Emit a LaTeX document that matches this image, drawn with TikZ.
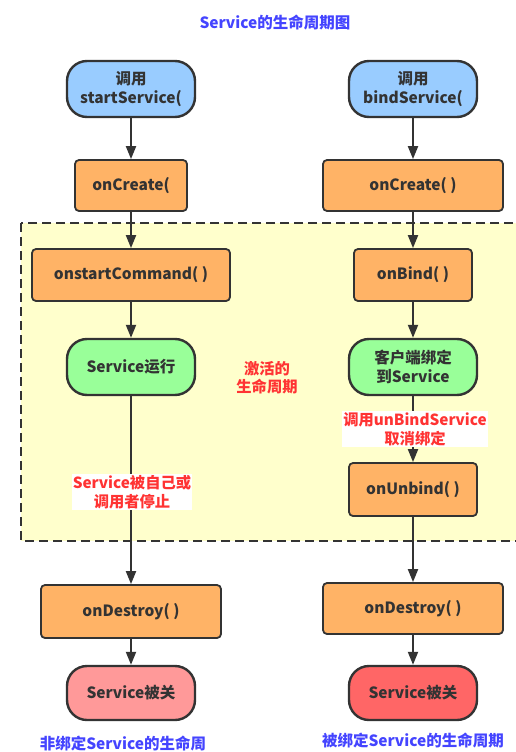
\documentclass[tikz,border=0pt]{standalone}
\usepackage{fontspec}
\setmainfont{Noto Sans CJK SC}
\usetikzlibrary{arrows.meta,positioning}
\definecolor{txt}{HTML}{333333}
\definecolor{edge}{HTML}{333333}
\definecolor{termblue}{HTML}{99CCFF}
\definecolor{proc}{HTML}{FFB366}
\definecolor{runG}{HTML}{99FF99}
\definecolor{endA}{HTML}{FF9999}
\definecolor{endB}{HTML}{FF6666}
\definecolor{zone}{HTML}{FFFFCC}
\definecolor{hint}{HTML}{FF3333}
\definecolor{ttl}{HTML}{4444FF}
\tikzset{
  base/.style={font=\fontsize{15.5}{18.5}\selectfont\bfseries, text=txt, align=center, inner sep=0pt},
  term/.style={base, draw=edge, line width=2.4pt, rounded corners=20pt, minimum width=128pt, minimum height=56pt},
  procbox/.style={base, draw=edge, line width=1.8pt, rounded corners=4pt, fill=proc, minimum height=52pt},
  flow/.style={draw=edge, line width=2pt, -{Triangle[length=13pt,width=10pt]}},
  hintlbl/.style={font=\fontsize{15.3}{19}\selectfont\bfseries, text=hint, align=center, fill=white, inner xsep=1pt, inner ysep=1pt},
  zonelbl/.style={font=\fontsize{15.3}{18}\selectfont\bfseries, text=hint, align=center},
  ttllbl/.style={font=\fontsize{15.5}{18}\selectfont\bfseries, text=ttl}
}
\begin{document}
\begin{tikzpicture}[x=1pt,y=-1pt]
\useasboundingbox (0,0) rectangle (516,752);
\fill[white] (0,0) rectangle (516,752);
% active zone
\begin{scope}
\clip (0,0) rectangle (516,752);
\draw[fill=zone, draw=edge, line width=2pt, dash pattern=on 9pt off 5pt] (21,223) rectangle (530,541);
\end{scope}
\node[ttllbl] (title) at (275,22) {Service的生命周期图};
% left column
\node[term, fill=termblue] (s1) at (131,89) {调用\\startService(};
\node[procbox, minimum width=112pt, minimum height=51pt] (c1) at (131,185.5) {onCreate(};
\node[procbox, minimum width=198pt] (cmd) at (131,275) {onstartCommand( )};
\node[term, fill=runG] (run) at (131,367) {Service运行};
\node[procbox, minimum width=180pt, minimum height=53pt] (d1) at (131,611.5) {onDestroy( )};
\node[term, fill=endA, minimum height=54pt] (e1) at (131,693) {Service被关};
\node[ttllbl] (t1) at (123,743) {非绑定Service的生命周};
% right column
\node[term, fill=termblue] (s2) at (413,89) {调用\\bindService(};
\node[procbox, minimum width=180pt, minimum height=51pt] (c2) at (413,185.5) {onCreate( )};
\node[procbox, minimum width=118pt] (bind) at (413,275) {onBind( )};
\node[term, fill=runG] (cli) at (413,367) {客户端绑定\\到Service};
\node[procbox, minimum width=128pt, minimum height=53pt] (unb) at (413,489.5) {onUnbind( )};
\node[procbox, minimum width=180pt, minimum height=51pt] (d2) at (413,608.5) {onDestroy( )};
\node[term, fill=endB, minimum height=54pt] (e2) at (413,693) {Service被关};
\node[ttllbl] (t2) at (413,740) {被绑定Service的生命周期};
% zone label
\node[zonelbl] (zl) at (267,378) {激活的\\生命周期};
% connectors
\draw[flow] (s1) -- (c1);
\draw[flow] (c1) -- (cmd);
\draw[flow] (cmd) -- (run);
\draw[flow] (run) -- (d1);
\draw[flow] (d1) -- (e1);
\draw[flow] (s2) -- (c2);
\draw[flow] (c2) -- (bind);
\draw[flow] (bind) -- (cli);
\draw[flow] (cli) -- (unb);
\draw[flow] (unb) -- (d2);
\draw[flow] (d2) -- (e2);
% connector labels
\node[hintlbl] (l1) at (132,492) {Service被自己或\\调用者停止};
\node[hintlbl] (l2) at (415,429) {调用unBindService\\取消绑定};
\end{tikzpicture}
\end{document}
